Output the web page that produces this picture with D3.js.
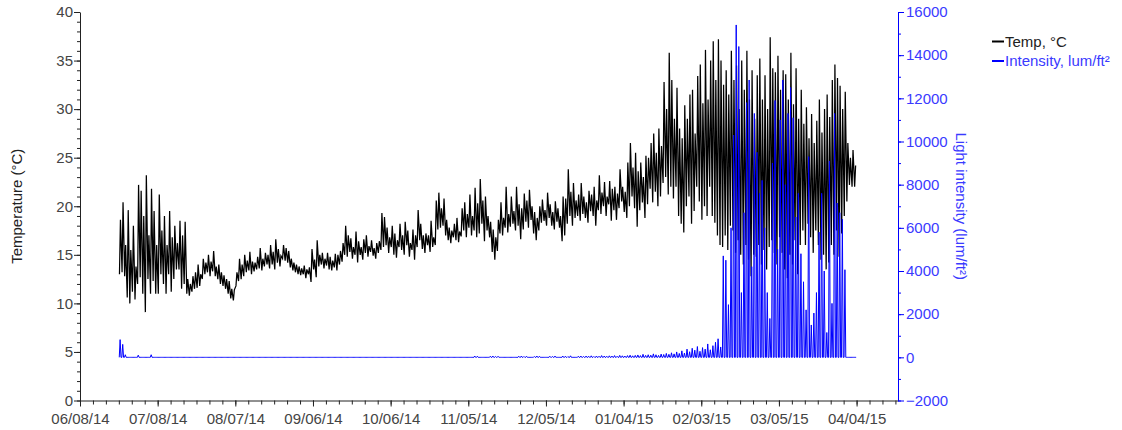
<!DOCTYPE html>
<html>
<head>
<meta charset="utf-8">
<script src="https://cdn.jsdelivr.net/npm/d3@7"></script>
<style>
  body { margin: 0; background: #fff; }
  svg { display: block; font-family: "Liberation Sans", Arial, sans-serif; }
  .axis text { font-size: 15px; }
</style>
</head>
<body>
<div id="chart"></div>
<script>
const width = 1122;
const height = 430;
const area = { left: 80, right: 898, top: 12, bottom: 400.5 };

// first logged day, one value per day after that
const startDay = '06/23/14';

// daily low / high temperature, degC
const tempMin = [
  13.0,13.2,12.8,10.6,10.0,11.2,10.4,12.0,12.7,11.0,
  9.1,12.5,11.0,12.3,11.0,11.0,13.0,12.0,11.0,13.0,
  11.2,12.5,13.5,13.5,11.5,12.0,11.0,10.8,11.2,11.5,
  11.6,11.8,12.5,13.0,13.2,12.8,13.3,12.8,12.5,12.0,
  11.8,11.5,11.0,10.5,10.3,11.8,12.3,12.5,12.8,13.2,
  13.4,13.0,13.3,13.5,13.6,13.4,13.8,14.0,13.6,14.0,
  13.5,14.2,13.8,14.6,14.4,14.2,13.7,13.4,13.2,13.0,
  12.9,13.0,12.6,13.0,12.2,13.5,12.7,13.8,14.0,13.6,
  13.9,13.5,13.4,13.7,13.4,14.0,14.3,15.0,14.8,15.3,
  14.6,15.0,14.2,15.0,14.5,15.2,14.8,15.3,14.9,14.6,
  15.2,15.5,15.8,16.0,15.2,15.8,15.0,14.7,15.8,15.5,
  15.0,16.0,14.8,15.5,14.5,15.8,16.5,15.6,15.2,16.0,
  15.3,15.8,16.0,17.6,17.8,18.0,17.0,16.5,16.2,16.8,
  16.5,16.3,16.9,17.5,16.8,17.8,17.0,17.5,16.8,17.2,
  18.2,16.4,17.5,16.8,15.3,14.5,15.4,17.2,17.0,17.8,
  17.3,17.9,18.2,17.5,18.0,16.6,17.6,18.4,17.8,18.6,
  17.2,16.5,17.5,18.3,18.5,18.0,18.8,18.0,17.6,18.4,
  17.8,16.4,17.0,18.2,19.0,18.0,18.8,19.0,18.5,19.2,
  18.8,18.3,19.5,19.0,18.0,19.6,19.2,20.0,19.0,20.2,
  18.5,19.6,18.6,19.8,20.5,19.4,18.8,20.0,21.0,19.8,
  17.9,19.6,20.4,18.8,20.2,21.8,20.4,21.5,20.0,21.0,
  22.4,23.0,21.2,22.0,20.8,22.0,19.0,18.2,17.3,20.0,
  21.0,18.2,19.5,22.0,20.5,18.6,20.0,19.0,22.0,19.0,
  18.3,17.0,16.0,15.8,17.0,15.5,18.0,17.5,15.2,16.5,
  15.0,14.0,16.0,14.5,12.8,15.0,14.8,16.0,14.0,15.5,
  13.5,15.8,16.5,15.2,14.0,16.8,15.2,13.5,12.6,15.0,
  14.0,16.5,13.0,16.0,17.5,16.0,18.2,16.8,15.2,17.5,
  16.0,14.5,15.0,13.5,14.2,16.0,15.0,17.5,14.8,17.2,
  19.0,20.5,22.2,22.0,22.0
];
const tempMax = [
  18.6,20.4,16.0,19.6,15.5,18.0,13.8,22.2,21.6,19.0,
  23.2,17.0,21.8,19.5,16.0,21.2,17.5,19.0,16.0,19.5,
  16.8,18.0,16.2,18.5,17.0,18.4,12.5,12.0,12.8,13.2,
  14.0,13.0,14.6,14.2,15.0,14.3,15.4,13.8,14.0,13.2,
  12.9,12.5,12.3,11.5,11.4,13.2,14.6,14.0,15.0,14.4,
  15.3,14.3,14.2,14.8,15.7,14.6,15.2,15.0,16.0,15.3,
  16.6,15.6,14.9,16.0,15.7,15.4,14.6,14.2,14.0,13.8,
  13.6,13.9,13.5,13.7,15.6,14.5,16.5,15.0,15.2,14.6,
  15.2,14.8,14.4,15.1,15.0,15.4,16.2,18.0,17.0,16.7,
  15.8,17.4,16.4,15.8,16.6,17.0,15.9,16.5,15.7,16.2,
  16.4,19.3,18.9,17.8,16.8,18.0,17.2,16.5,18.2,17.0,
  18.4,17.5,16.2,17.6,17.0,19.6,18.2,17.0,17.2,17.0,
  18.5,16.8,20.6,21.4,19.8,20.8,18.6,17.8,17.5,18.2,
  18.8,17.4,19.8,20.4,19.2,21.2,19.0,21.9,20.3,22.8,
  20.6,21.0,19.0,18.4,17.6,16.8,18.6,20.4,18.8,22.0,
  19.2,21.0,19.5,22.0,20.2,19.8,21.3,20.6,21.7,20.0,
  19.4,18.8,20.0,20.7,19.6,21.4,20.2,19.4,20.5,19.8,
  19.0,21.0,20.8,23.8,21.5,22.4,20.6,21.2,22.4,21.0,
  20.4,21.6,21.2,22.0,20.6,23.2,21.4,22.5,21.0,22.6,
  21.8,22.0,21.3,23.8,22.0,21.5,24.5,26.5,24.0,25.5,
  23.6,24.5,23.0,25.2,25.0,26.5,27.5,25.5,28.0,26.2,
  32.8,30.0,35.8,33.0,29.0,32.2,28.0,27.0,30.4,29.0,
  31.5,32.0,27.5,33.4,34.6,30.6,36.1,31.0,35.0,37.0,
  33.0,37.2,35.0,32.5,34.0,31.5,36.0,33.0,34.5,30.0,
  35.0,32.0,36.0,31.0,34.0,29.0,33.5,35.2,31.0,33.5,
  30.0,37.4,34.2,33.8,35.5,32.0,34.0,33.6,31.0,35.8,
  30.5,34.2,29.0,32.0,28.5,30.2,27.0,29.5,26.5,28.8,
  31.0,27.6,30.0,31.5,29.2,33.0,34.6,33.2,32.4,30.0,
  31.8,26.5,25.0,25.8,24.2
];
// daily peak light intensity, lum/ft2
const lightPeak = [
  820,600,120,0,0,0,0,100,0,0,
  0,0,120,0,0,0,0,0,0,0,
  0,0,0,0,0,0,0,0,0,0,
  0,0,0,0,0,0,0,0,0,0,
  0,0,0,0,0,0,0,0,0,0,
  0,0,0,0,0,0,0,0,0,0,
  0,0,0,0,0,0,0,0,0,0,
  0,0,0,0,0,0,0,0,0,0,
  0,0,0,0,0,0,0,0,0,0,
  0,0,0,0,0,0,0,0,0,0,
  0,0,0,0,0,0,0,0,0,0,
  0,0,0,0,0,0,0,0,0,0,
  0,0,0,0,0,0,0,0,0,0,
  0,0,0,0,0,0,0,60,50,0,
  0,0,0,50,60,40,50,0,0,0,
  0,0,0,0,50,60,40,50,0,0,
  40,60,50,0,0,0,50,40,60,0,
  0,60,50,40,70,0,0,50,60,40,
  60,50,70,40,60,50,80,60,50,70,
  60,80,50,90,70,60,80,100,70,90,
  110,80,140,90,120,100,160,120,90,150,
  130,180,140,210,160,250,180,300,200,380,
  260,420,330,500,280,450,380,620,350,540,
  700,860,480,4700,4500,2440,6000,10300,15400,14400,
  3000,6700,11800,12850,4200,11300,9500,7600,8200,6000,
  3000,1800,9000,11900,5000,11000,12850,8000,11300,12500,
  11100,6500,7600,4800,3500,2200,9300,1500,2050,3000,
  5800,7600,4000,1150,9100,2500,11300,7150,6700,6400,
  4060,0,0,0,0
];

const xTickLabels = ['06/08/14','07/08/14','08/07/14','09/06/14','10/06/14','11/05/14',
  '12/05/14','01/04/15','02/03/15','03/05/15','04/04/15'];
const xEnd = '04/20/15';
const tempTicks = [0, 5, 10, 15, 20, 25, 30, 35, 40];
const lightTicks = [-2000, 0, 2000, 4000, 6000, 8000, 10000, 12000, 14000, 16000];

const parse = d3.timeParse('%m/%d/%y');
const fmt = d3.timeFormat('%m/%d/%y');

// build the point lists: low in the morning, high mid-afternoon
const day0 = parse(startDay);
const tempPoints = [];
const lightPoints = [];
tempMin.forEach((v, i) => {
  const day = d3.timeDay.offset(day0, i);
  tempPoints.push({ t: d3.timeHour.offset(day, 6), v: v });
  tempPoints.push({ t: d3.timeHour.offset(day, 15), v: tempMax[i] });
  lightPoints.push({ t: d3.timeHour.offset(day, 4), v: 0 });
  lightPoints.push({ t: d3.timeHour.offset(day, 12), v: lightPeak[i] });
  lightPoints.push({ t: d3.timeHour.offset(day, 20), v: 0 });
});

const svg = d3.select('#chart').append('svg')
  .attr('width', width)
  .attr('height', height);

const x = d3.scaleTime()
  .domain([parse(xTickLabels[0]), parse(xEnd)])
  .range([area.left, area.right]);
const yT = d3.scaleLinear().domain([0, 40]).range([area.bottom, area.top]);
const yL = d3.scaleLinear().domain([-2000, 16000]).range([area.bottom, area.top]);

// series
svg.append('path')
  .datum(tempPoints)
  .attr('fill', 'none')
  .attr('stroke', '#000')
  .attr('stroke-width', 1.25)
  .attr('d', d3.line().x(d => x(d.t)).y(d => yT(d.v)));

svg.append('path')
  .datum(lightPoints)
  .attr('fill', 'none')
  .attr('stroke', '#0000ff')
  .attr('stroke-width', 1)
  .attr('d', d3.line().x(d => x(d.t)).y(d => yL(d.v)));

// x axis, minor ticks every 5 days
const minorDays = d3.timeDay.range(parse(xTickLabels[0]), parse(xEnd)).filter((d, i) => i % 5 === 0);
svg.append('g')
  .attr('class', 'axis')
  .attr('transform', `translate(0,${area.bottom})`)
  .call(d3.axisBottom(x).tickValues(minorDays).tickSize(4).tickSizeOuter(0).tickFormat(''))
  .call(g => g.selectAll('path,line').attr('stroke', '#222'));
svg.append('g')
  .attr('class', 'axis')
  .attr('transform', `translate(0,${area.bottom})`)
  .call(d3.axisBottom(x).tickValues(xTickLabels.map(parse)).tickSize(6).tickSizeOuter(0)
    .tickPadding(7).tickFormat(fmt))
  .call(g => g.select('.domain').remove())
  .call(g => g.selectAll('line').attr('stroke', '#222'))
  .call(g => g.selectAll('text').attr('fill', '#444'));

// left axis
svg.append('g')
  .attr('class', 'axis')
  .attr('transform', `translate(${area.left},0)`)
  .call(d3.axisLeft(yT).tickValues(d3.range(0, 41, 1)).tickSize(3).tickSizeOuter(0).tickFormat(''))
  .call(g => g.selectAll('path,line').attr('stroke', '#222'));
svg.append('g')
  .attr('class', 'axis')
  .attr('transform', `translate(${area.left},0)`)
  .call(d3.axisLeft(yT).tickValues(tempTicks).tickSize(6).tickPadding(1).tickSizeOuter(0))
  .call(g => g.select('.domain').remove())
  .call(g => g.selectAll('line').attr('stroke', '#222'))
  .call(g => g.selectAll('text').attr('fill', '#444'));

// right axis
svg.append('g')
  .attr('class', 'axis')
  .attr('transform', `translate(${area.right},0)`)
  .call(d3.axisRight(yL).tickValues(d3.range(-2000, 16001, 1000)).tickSize(3).tickSizeOuter(0).tickFormat(''))
  .call(g => g.selectAll('path,line').attr('stroke', '#0000ff'));
svg.append('g')
  .attr('class', 'axis')
  .attr('transform', `translate(${area.right},0)`)
  .call(d3.axisRight(yL).tickValues(lightTicks).tickSize(6).tickPadding(2).tickSizeOuter(0)
    .tickFormat(d3.format('d')))
  .call(g => g.select('.domain').remove())
  .call(g => g.selectAll('line').attr('stroke', '#0000ff'))
  .call(g => g.selectAll('text').attr('fill', '#3a3aff'));

// axis titles
svg.append('text')
  .attr('transform', `translate(22,${(area.top + area.bottom) / 2}) rotate(-90)`)
  .attr('text-anchor', 'middle')
  .attr('font-size', 15)
  .attr('fill', '#222')
  .text('Temperature (°C)');

svg.append('text')
  .attr('transform', `translate(956,${(area.top + area.bottom) / 2}) rotate(90)`)
  .attr('text-anchor', 'middle')
  .attr('font-size', 15)
  .attr('fill', '#3a3aff')
  .text('Light intensity (lum/ft²)');

// legend
const legend = [
  { name: 'Temp, °C', color: '#000', text: '#222' },
  { name: 'Intensity, lum/ft²', color: '#0000ff', text: '#3a3aff' }
];
const lg = svg.append('g').attr('transform', 'translate(992,41.5)');
lg.selectAll('line').data(legend).join('line')
  .attr('x1', 0).attr('x2', 12)
  .attr('y1', (d, i) => i * 19.5).attr('y2', (d, i) => i * 19.5)
  .attr('stroke', d => d.color)
  .attr('stroke-width', 2);
lg.selectAll('text').data(legend).join('text')
  .attr('x', 13)
  .attr('y', (d, i) => i * 19.5 + 5)
  .attr('font-size', 15)
  .attr('fill', d => d.text)
  .text(d => d.name);
</script>
</body>
</html>
